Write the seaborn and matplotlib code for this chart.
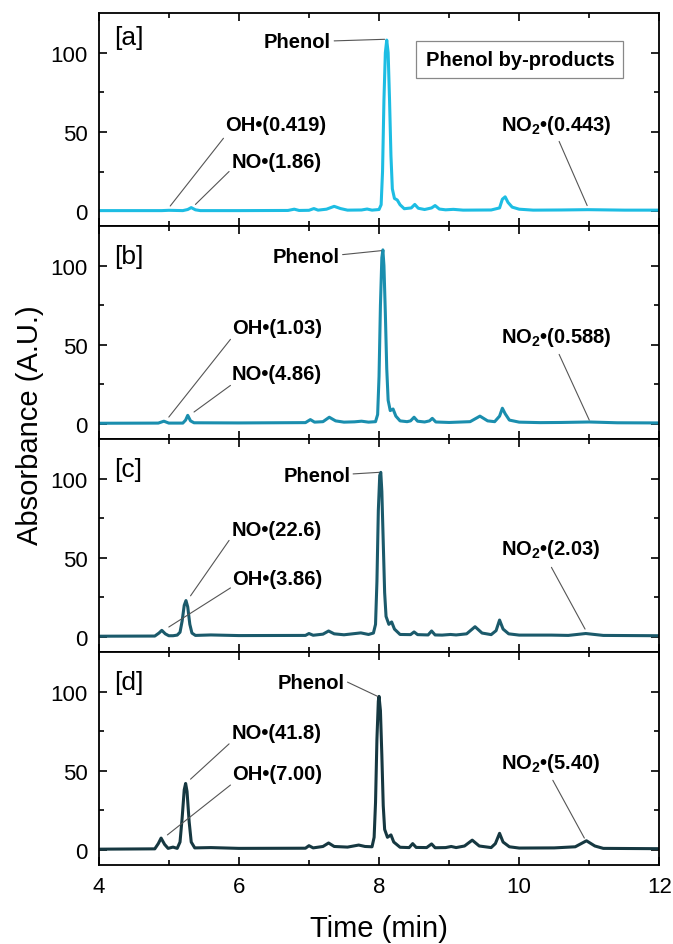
import pandas as pd
import seaborn as sns
import matplotlib.pyplot as plt

# Cromatogramas (tempo em min, absorbancia em A.U.)
t_a = [4.0, 4.9, 5.0, 5.2, 5.27, 5.32, 5.38, 5.45, 6.0, 6.7, 6.79, 6.86, 7.0, 7.07, 7.13, 7.25, 7.36, 7.45,
       7.55, 7.75, 7.83, 7.9, 8.0, 8.03, 8.05, 8.07, 8.09, 8.11, 8.13, 8.15, 8.17, 8.19, 8.22, 8.26, 8.3,
       8.36, 8.46, 8.51, 8.56, 8.65, 8.75, 8.8, 8.86, 8.95, 9.06, 9.2, 9.6, 9.72, 9.76, 9.8, 9.84, 9.9,
       10.0, 10.2, 10.6, 10.98, 11.5, 12.0]
abs_a = [0.3, 0.3, 0.5, 0.3, 1.0, 2.2, 0.8, 0.3, 0.3, 0.4, 1.2, 0.4, 0.5, 1.6, 0.6, 1.2, 3.0, 1.6,
         0.6, 0.7, 1.3, 0.6, 1.0, 4.0, 25, 70, 100, 108, 100, 70, 35, 14, 8.0, 7.0, 4.0,
         1.5, 2.0, 4.2, 1.8, 1.0, 2.0, 3.5, 1.3, 0.8, 1.1, 0.6, 0.7, 2.0, 7.5, 9.0, 5.5, 2.5,
         1.2, 0.6, 0.7, 0.9, 0.6, 0.6]

t_b = [4.0, 4.85, 4.93, 5.0, 5.2, 5.24, 5.27, 5.31, 5.36, 6.0, 6.95, 7.02, 7.08, 7.2, 7.29, 7.38, 7.5,
       7.65, 7.75, 7.85, 7.95, 7.98, 8.0, 8.02, 8.04, 8.055, 8.07, 8.09, 8.11, 8.13, 8.16, 8.2, 8.24,
       8.3, 8.4, 8.45, 8.5, 8.55, 8.65, 8.72, 8.76, 8.81, 9.0, 9.3, 9.44, 9.55, 9.65, 9.72, 9.76, 9.8,
       9.86, 10.0, 10.3, 10.6, 11.0, 11.4, 12.0]
abs_b = [0.5, 0.6, 1.8, 0.6, 0.6, 2.5, 5.5, 2.0, 0.8, 0.7, 0.9, 2.8, 1.2, 1.5, 4.3, 2.0, 1.2,
         1.4, 1.8, 1.2, 1.5, 6.0, 30, 75, 105, 110, 100, 70, 35, 15, 8.5, 9.5, 5.0,
         2.0, 1.5, 2.0, 4.3, 1.8, 1.3, 2.0, 3.6, 1.3, 1.0, 1.5, 5.0, 2.0, 1.5, 5.0, 10, 6.5,
         2.5, 1.2, 0.9, 1.0, 1.3, 0.8, 0.7]

t_c = [4.0, 4.8, 4.86, 4.9, 4.95, 5.0, 5.06, 5.12, 5.16, 5.19, 5.22, 5.245, 5.27, 5.3, 5.33, 5.38, 5.6,
       6.0, 6.95, 7.0, 7.06, 7.2, 7.28, 7.36, 7.5, 7.74, 7.85, 7.92, 7.95, 7.97, 7.99, 8.01, 8.025,
       8.04, 8.06, 8.08, 8.1, 8.14, 8.18, 8.22, 8.3, 8.45, 8.5, 8.55, 8.7, 8.75, 8.8, 8.9, 9.02, 9.1,
       9.25, 9.37, 9.47, 9.6, 9.67, 9.72, 9.77, 9.85, 10.0, 10.46, 10.7, 10.95, 11.2, 12.0]
abs_c = [0.5, 0.6, 2.5, 4.2, 2.0, 0.8, 0.8, 1.2, 3.0, 10, 20, 23, 19, 8.0, 2.5, 1.0, 1.3,
         0.9, 1.0, 2.2, 1.1, 1.8, 3.8, 2.0, 1.4, 2.6, 1.6, 2.5, 8.0, 35, 80, 102, 104,
         92, 60, 28, 13, 8.0, 9.5, 5.0, 1.6, 1.5, 3.2, 1.5, 1.3, 3.8, 1.3, 1.2, 1.6, 1.3,
         2.0, 6.5, 2.5, 1.5, 4.0, 10.7, 5.0, 2.0, 1.2, 1.2, 1.0, 2.2, 1.0, 0.8]

t_d = [4.0, 4.8, 4.85, 4.89, 4.94, 4.99, 5.06, 5.12, 5.16, 5.19, 5.22, 5.24, 5.26, 5.29, 5.32, 5.37,
       5.6, 6.0, 6.95, 7.0, 7.06, 7.2, 7.28, 7.36, 7.55, 7.71, 7.8, 7.9, 7.93, 7.95, 7.97, 7.99, 8.0,
       8.02, 8.04, 8.06, 8.08, 8.12, 8.17, 8.21, 8.3, 8.43, 8.48, 8.53, 8.68, 8.75, 8.8, 8.95, 9.03,
       9.1, 9.22, 9.33, 9.43, 9.6, 9.66, 9.72, 9.77, 9.86, 10.0, 10.5, 10.8, 10.96, 11.08, 11.2, 12.0]
abs_d = [0.5, 0.7, 4.0, 7.5, 3.5, 1.0, 1.8, 1.0, 5.0, 20, 38, 42, 37, 18, 5.0, 1.3,
         1.5, 1.0, 1.1, 2.7, 1.3, 2.2, 4.4, 2.2, 1.8, 3.1, 2.2, 2.0, 8.0, 30, 70, 94, 97,
         88, 60, 28, 13, 8.0, 9.5, 5.0, 1.7, 1.5, 4.0, 1.6, 1.5, 3.8, 1.4, 1.5, 2.2,
         1.5, 2.5, 6.2, 2.5, 1.5, 4.0, 10.5, 5.0, 2.0, 1.2, 1.3, 2.0, 5.8, 2.5, 1.0, 0.8]

painel = ['[a]', '[b]', '[c]', '[d]']
oh_vals = ['0.419', '1.03', '3.86', '7.00']
no_vals = ['1.86', '4.86', '22.6', '41.8']
no2_vals = ['0.443', '0.588', '2.03', '5.40']

cores = ['#1dbde3', '#1a8eae', '#1b5a6b', '#163841']

# posicoes dos rotulos e linhas guia (texto x, texto y, inicio da linha, fim da linha)
pos_phenol = [(7.31, 107, (7.36, 107.5), (8.08, 108.5)),
              (7.44, 106, (7.48, 107), (8.03, 109.5)),
              (7.59, 102, (7.63, 103), (8.0, 104)),
              (7.51, 106, (7.55, 106), (7.98, 97))]
pos_oh = [(5.81, 55, (5.78, 46), (5.02, 3.2)),
          (5.9, 61, (5.88, 53.5), (5.0, 4.4)),
          (5.9, 37, (5.88, 31), (5.0, 6.3)),
          (5.9, 48, (5.88, 41), (4.98, 9.5))]
pos_no = [(5.89, 31.5, (5.86, 25), (5.38, 4.2)),
          (5.9, 31.7, (5.88, 24.4), (5.36, 7.6)),
          (5.9, 68, (5.86, 61), (5.31, 26)),
          (5.9, 74, (5.86, 67), (5.31, 44.7))]
pos_no2 = [(9.74, 55, (10.57, 44), (10.97, 3.5)),
           (9.74, 55, (10.57, 44), (11.0, 2.5)),
           (9.74, 56, (10.46, 44), (10.94, 5.0)),
           (9.74, 55.5, (10.48, 44), (10.93, 7.5))]

series = [(t_a, abs_a), (t_b, abs_b), (t_c, abs_c), (t_d, abs_d)]

sns.set_style("ticks")
plt.rcParams['font.family'] = ['Liberation Sans', 'DejaVu Sans']
plt.rcParams['mathtext.fontset'] = 'custom'
plt.rcParams['mathtext.rm'] = 'Liberation Sans'
plt.rcParams['mathtext.bf'] = 'Liberation Sans:bold'
plt.rcParams['text.color'] = 'black'
plt.rcParams['xtick.color'] = 'black'
plt.rcParams['ytick.color'] = 'black'

fig, axes = plt.subplots(4, 1, figsize=(6.73, 9.45), dpi=100, sharex=True)
fig.subplots_adjust(left=0.1467, right=0.9797, top=0.985, bottom=0.0836, hspace=0)

lbl = dict(fontsize=14.5, fontweight='bold', va='center')
guia = dict(arrowstyle='-', color='#555555', lw=0.8, shrinkA=0, shrinkB=0)

for i, ax in enumerate(axes):
    t, a = series[i]
    df = pd.DataFrame({'Tempo': t, 'Abs': a})
    sns.lineplot(data=df, x='Tempo', y='Abs', ax=ax, color=cores[i], lw=2.2)

    ax.set_xlim(4, 12)
    ax.set_ylim(-9.5, 125)
    ax.set_xticks([4, 6, 8, 10, 12])
    ax.set_xticks([5, 7, 9, 11], minor=True)
    ax.set_yticks([0, 50, 100])
    ax.set_yticks([25, 75], minor=True)
    ax.tick_params(which='both', direction='in', top=True, right=True, width=1.2,
                   labelsize=16, pad=8)
    ax.tick_params(which='major', length=6)
    ax.tick_params(which='minor', length=3.5)
    for s in ax.spines.values():
        s.set_linewidth(1.3)
        s.set_color('black')
    ax.set_xlabel('')
    ax.set_ylabel('')

    ax.text(4.22, 110 if i == 0 else 106, painel[i], fontsize=19, va='center')

    tx, ty, p0, p1 = pos_phenol[i]
    ax.text(tx, ty, 'Phenol', ha='right', **lbl)
    ax.annotate('', xy=p1, xytext=p0, arrowprops=guia)

    tx, ty, p0, p1 = pos_oh[i]
    ax.text(tx, ty, 'OH•(' + oh_vals[i] + ')', ha='left', **lbl)
    ax.annotate('', xy=p1, xytext=p0, arrowprops=guia)

    tx, ty, p0, p1 = pos_no[i]
    ax.text(tx, ty, 'NO•(' + no_vals[i] + ')', ha='left', **lbl)
    ax.annotate('', xy=p1, xytext=p0, arrowprops=guia)

    tx, ty, p0, p1 = pos_no2[i]
    ax.text(tx, ty, r'NO$_\mathbf{2}$•(' + no2_vals[i] + ')', ha='left', **lbl)
    ax.annotate('', xy=p1, xytext=p0, arrowprops=guia)

axes[0].text(10.01, 95.6, 'Phenol by-products', ha='center', va='center', fontsize=14.5,
             fontweight='bold',
             bbox=dict(boxstyle='square,pad=0.45', fc='white', ec='#888888', lw=0.9))

fig.text(0.045, 0.55, 'Absorbance (A.U.)', rotation=90, ha='center', va='center', fontsize=21)
fig.text(0.563, 0.017, 'Time (min)', ha='center', va='center', fontsize=21)

plt.savefig('out.png', dpi=100)
